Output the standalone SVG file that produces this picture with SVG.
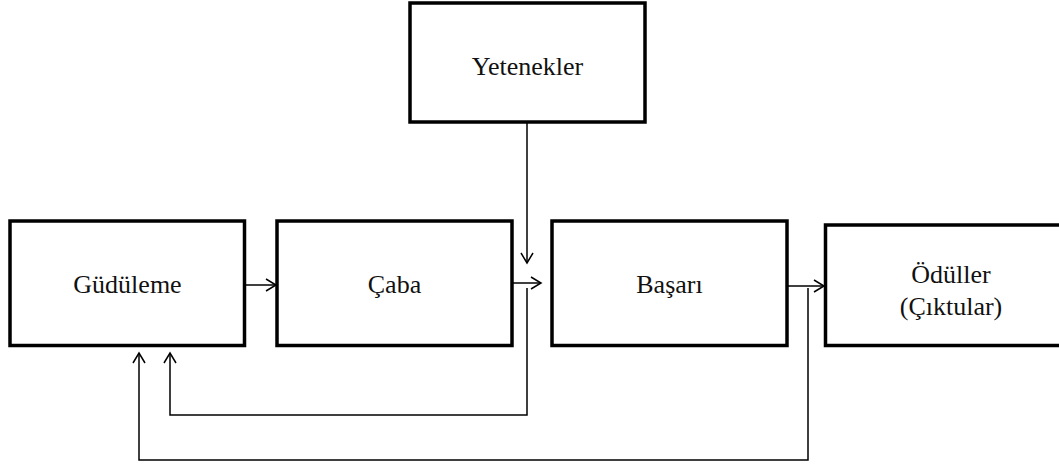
<svg xmlns="http://www.w3.org/2000/svg" width="1059" height="466" viewBox="0 0 1059 466">
<style>
.box{fill:#fff;stroke:#000;stroke-width:3.5}
.lbl{font-size:26px;fill:#111;text-anchor:middle}
.conn{fill:none;stroke:#000;stroke-width:1.5}
.head{fill:none;stroke:#000;stroke-width:1.5}
</style>
<rect width="1059" height="466" fill="#fff"/>
<g font-family="'Liberation Serif', 'Times New Roman', serif">
<g id="yetenekler"><rect class="box" x="410" y="3" width="235" height="119"/><text class="lbl" x="527.5" y="75">Yetenekler</text></g>
<g id="gudulеme"><rect class="box" x="10" y="221" width="234.5" height="124.5"/><text class="lbl" x="127.5" y="293">Güdüleme</text></g>
<g id="caba"><rect class="box" x="277" y="221" width="235" height="124.5"/><text class="lbl" x="394.5" y="293">Çaba</text></g>
<g id="basari"><rect class="box" x="552" y="221" width="235" height="124.5"/><text class="lbl" x="669.5" y="293">Başarı</text></g>
<g id="oduller"><rect class="box" x="825.5" y="225" width="252" height="120.5"/><text class="lbl" x="951" y="283">Ödüller</text><text class="lbl" x="951" y="315">(Çıktular)</text></g>
</g>
<g id="connectors">
<path class="conn" d="M246 285H276"/><path class="head" d="M266 279L276 285L266 291"/>
<path class="conn" d="M527 123V263"/><path class="head" d="M521 253L527 263L533 253"/>
<path class="conn" d="M513 283H541"/><path class="head" d="M531 277L541 283L531 289"/>
<path class="conn" d="M788 286H824"/><path class="head" d="M814 280L824 286L814 292"/>
<path class="conn" d="M527 288V415H170V353"/><path class="head" d="M164 363L170 353L176 363"/>
<path class="conn" d="M808 288V460H139V353"/><path class="head" d="M133 363L139 353L145 363"/>
</g>
</svg>
